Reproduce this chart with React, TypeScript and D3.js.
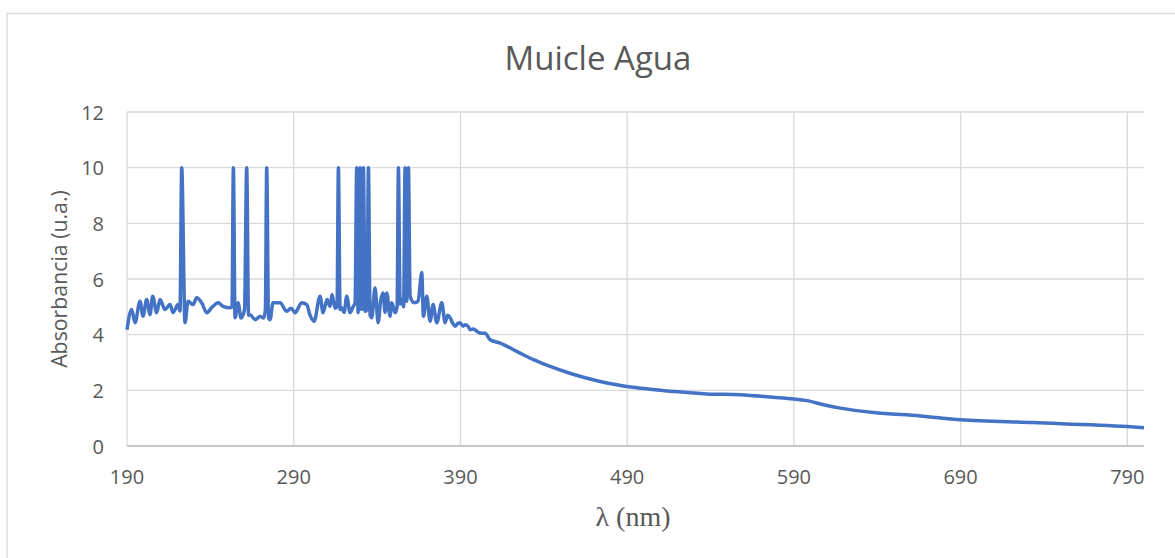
import * as d3 from "d3";

// wavelength (nm) and absorbance (u.a.)
const wavelength = [
  190, 192.8, 194.8, 197.8, 199.6, 201.8, 203.8, 205.4, 207.8, 209.8, 212.8, 215.8, 217.6, 220.6, 221.8,
  222.8, 224.8, 226.6, 229.6, 231.8, 234.8, 237.8, 240.8, 244.6, 247.6, 251.8, 253, 253.8, 254.8, 256.6,
  258.4, 260.5, 261.8, 262.9, 263.8, 266.8, 269.8, 272, 273, 273.8, 274.9, 275.8, 277.6, 281.8, 285.8,
  288.4, 290.8, 294.8, 297.8, 299.8, 302.2, 305.8, 307.6, 310, 311.8, 313, 314.8, 316, 316.8, 317.8,
  318.8, 320.2, 321.8, 323.8, 325.6, 326.8, 327.8, 328.6, 329.8, 330.7, 331.8, 332.8, 334, 334.8, 335.8,
  336.8, 338.8, 340.6, 342.1, 343.6, 344.8, 345.8, 347.8, 348.8, 350.8, 352, 352.8, 353.8, 354.8, 355.9,
  356.8, 357.8, 358.8, 359.8, 362.2, 364.6, 366.8, 367.8, 369.8, 371.8, 373.6, 375.8, 378.8, 380.8, 382.3,
  383.8, 385.3, 386.8, 388.3, 389.8, 391.6, 392.8, 394.6, 395.8, 397.6, 401.8, 404.8, 407.8, 413.8, 423.8,
  433.8, 443.8, 453.8, 463.8, 473.8, 483.8, 489.8, 503.8, 517.8, 537.8, 557.8, 577.6, 589.8, 597.8, 607.8,
  617.8, 637.6, 665.8, 689.8, 733.6, 789.8, 800,
];
const absorbance = [
  4.18, 4.9, 4.43, 5.2, 4.66, 5.26, 4.72, 5.38, 4.79, 5.26, 4.9, 5.08, 4.79, 5.08, 4.85,
  10, 4.43, 5.2, 5.08, 5.33, 5.15, 4.79, 4.97, 5.15, 5.02, 4.97, 5.0, 10, 4.61, 5.15,
  4.6, 4.9, 10, 4.7, 4.72, 4.54, 4.65, 4.6, 4.9, 10, 4.6, 4.54, 5.15, 5.15, 4.84,
  4.95, 4.79, 5.15, 5.08, 4.7, 4.48, 5.38, 4.79, 5.26, 5.02, 5.44, 4.95, 5.0, 10, 4.9,
  4.97, 4.8, 5.38, 4.79, 5.0, 5.15, 10, 4.79, 10, 4.9, 10, 4.84, 4.9, 10, 4.7,
  4.61, 5.69, 4.43, 5.2, 5.5, 4.8, 5.5, 4.66, 5.15, 4.79, 5.0, 10, 5.1, 5.26, 5.0,
  10, 5.2, 10, 5.38, 5.15, 5.2, 6.23, 4.66, 5.38, 4.48, 5.08, 4.43, 5.15, 4.43, 4.7,
  4.61, 4.42, 4.3, 4.4, 4.43, 4.3, 4.36, 4.3, 4.18, 4.2, 4.06, 4.05, 3.82, 3.7, 3.4,
  3.1, 2.86, 2.65, 2.47, 2.32, 2.2, 2.14, 2.04, 1.96, 1.87, 1.84, 1.75, 1.69, 1.63, 1.48,
  1.36, 1.2, 1.08, 0.94, 0.84, 0.7, 0.66,
];
const xTicks = [190, 290, 390, 490, 590, 690, 790];
const yTicks = [0, 2, 4, 6, 8, 10, 12];

const width = 1175;
const height = 558;
const marginLeft = 127;
const marginRight = 31;
const marginTop = 112;
const marginBottom = 112;

const textColor = "#595959";
const gridColor = "#d9d9d9";

export default function App() {
  const x = d3.scaleLinear([190, 800], [marginLeft, width - marginRight]);
  const y = d3.scaleLinear([0, 12], [height - marginBottom, marginTop]);

  const line = d3
    .line<number>()
    .x((d, i) => x(wavelength[i]))
    .y((d) => y(d))
    .curve(d3.curveMonotoneX);

  return (
    <svg
      width={width}
      height={height}
      style={{ position: "absolute", left: 0, top: 0, background: "#fff" }}
    >
      <rect x={7} y={13.5} width={1300} height={700} fill="#fff" stroke={gridColor} strokeWidth={1.3} />

      <text
        x={598}
        y={57}
        textAnchor="middle"
        dominantBaseline="central"
        fontFamily="Open Sans"
        fontSize={33}
        fill={textColor}
      >
        Muicle Agua
      </text>

      {/* grid */}
      <g stroke={gridColor} strokeWidth={1.3}>
        {yTicks.map((t) => (
          <line key={t} x1={x(190)} x2={x(800)} y1={y(t)} y2={y(t)} />
        ))}
        {xTicks.map((t) => (
          <line key={t} x1={x(t)} x2={x(t)} y1={y(0)} y2={y(12)} />
        ))}
      </g>
      <line x1={x(190)} x2={x(800)} y1={y(0)} y2={y(0)} stroke="#bfbfbf" strokeWidth={1.5} />

      {/* tick labels */}
      <g fontFamily="Open Sans" fontSize={20} fill={textColor}>
        {yTicks.map((t) => (
          <text key={t} x={104} y={y(t)} textAnchor="end" dominantBaseline="central">
            {t}
          </text>
        ))}
        {xTicks.map((t) => (
          <text key={t} x={x(t)} y={476} textAnchor="middle" dominantBaseline="central">
            {t}
          </text>
        ))}
      </g>

      <text
        transform={`translate(58,${y(6)}) rotate(-90)`}
        textAnchor="middle"
        dominantBaseline="central"
        fontFamily="Open Sans"
        fontSize={21.3}
        fill={textColor}
      >
        Absorbancia (u.a.)
      </text>
      <text
        x={633}
        y={516}
        textAnchor="middle"
        dominantBaseline="central"
        fontFamily="Liberation Serif"
        fontSize={28}
        fill={textColor}
      >
        λ (nm)
      </text>

      <path
        d={line(absorbance) ?? ""}
        fill="none"
        stroke="#4472c4"
        strokeWidth={3.5}
        strokeLinejoin="round"
      />
    </svg>
  );
}
